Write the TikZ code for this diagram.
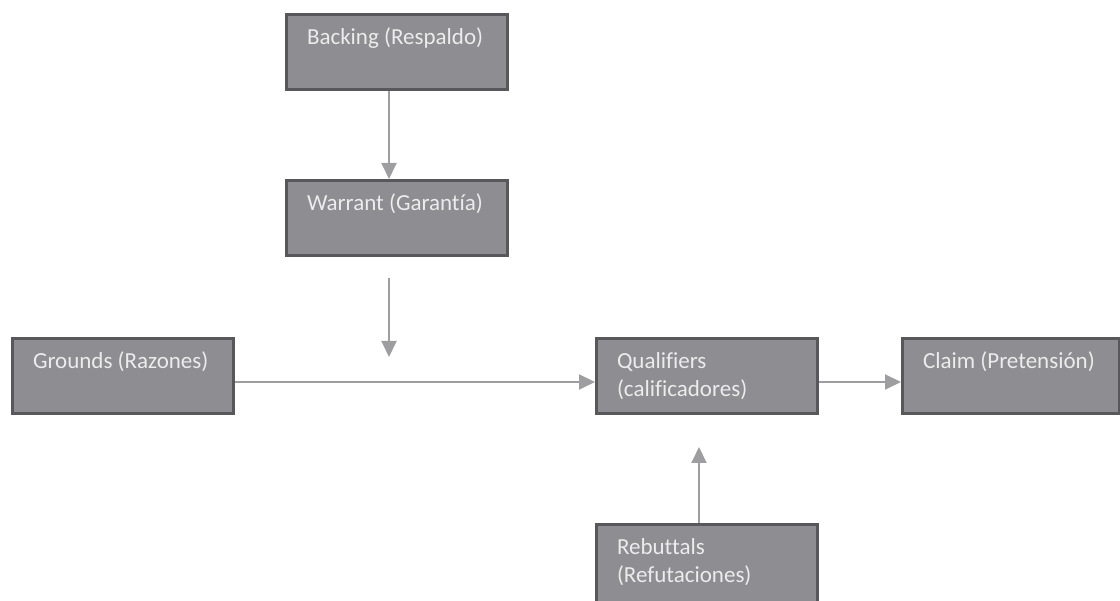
\documentclass[tikz,border=0pt]{standalone}
\usepackage{fontspec}
\setmainfont{Carlito}[Ligatures=NoCommon]
\usetikzlibrary{positioning}
\usetikzlibrary{arrows.meta}
\usetikzlibrary{calc}

\definecolor{boxfill}{RGB}{141,141,146}
\definecolor{boxline}{RGB}{88,88,92}
\definecolor{boxtext}{RGB}{236,236,236}
\definecolor{arrowgray}{RGB}{158,158,160}

\newlength{\boxht}
\setlength{\boxht}{55pt}
\newcommand{\boxtext}[2][180pt]{\parbox[t][\boxht][t]{#1}{\raggedright\strut #2}}

\begin{document}
\begin{tikzpicture}[
	x=1pt,
	y=-1pt,
	arrow/.style={-{Triangle[length=16pt,width=15pt]}, line width=2pt, draw=arrowgray, fill=arrowgray!85!black},
	box/.style={draw=boxline, line width=3pt, fill=boxfill, text=boxtext, anchor=north west, inner xsep=20.5pt, inner ysep=10pt},
	tall/.style={execute at begin node={\setlength{\boxht}{85pt}}},
	every node/.style={font=\fontsize{23}{28}\selectfont},
]

\useasboundingbox (0,0) rectangle (1120,601);
\clip (0,0) rectangle (1120,601);

% Boxes
\node[box](backing) at (285,13) {\boxtext{Backing (Respaldo)}};
\node[box, below=88pt of backing.south west, anchor=north west](warrant) {\boxtext{Warrant (Garantía)}};
\node[box](grounds) at (11,337) {\boxtext{Grounds (Razones)}};
\node[box](qualifiers) at (595,337) {\boxtext{Qualifiers\\(calificadores)}};
\node[box, right=82pt of qualifiers.north east, anchor=north west](claim) {\boxtext[176pt]{Claim (Pretensión)}};
\node[box, tall, below=108pt of qualifiers.south west, anchor=north west](rebuttals) {\boxtext{Rebuttals\\(Refutaciones)}};

% Point on the main line under the warrant
\coordinate (line) at ([yshift=-6pt]grounds.east);
\coordinate (join) at ([xshift=-8pt]warrant.south |- line);

% Arrows
\draw[arrow] ([xshift=-8pt]backing.south) -- ([xshift=-8pt]warrant.north);
\draw[arrow] ([xshift=-8pt,yshift=-21pt]warrant.south) -- ([yshift=25pt]join);
\draw[arrow] (line) -- ([yshift=-6pt]qualifiers.west);
\draw[arrow] ([yshift=-6pt]qualifiers.east) -- ([yshift=-6pt]claim.west);
\draw[arrow] ([xshift=-8pt]rebuttals.north) -- ([xshift=-8pt,yshift=-32pt]qualifiers.south);
\end{tikzpicture}
\end{document}
